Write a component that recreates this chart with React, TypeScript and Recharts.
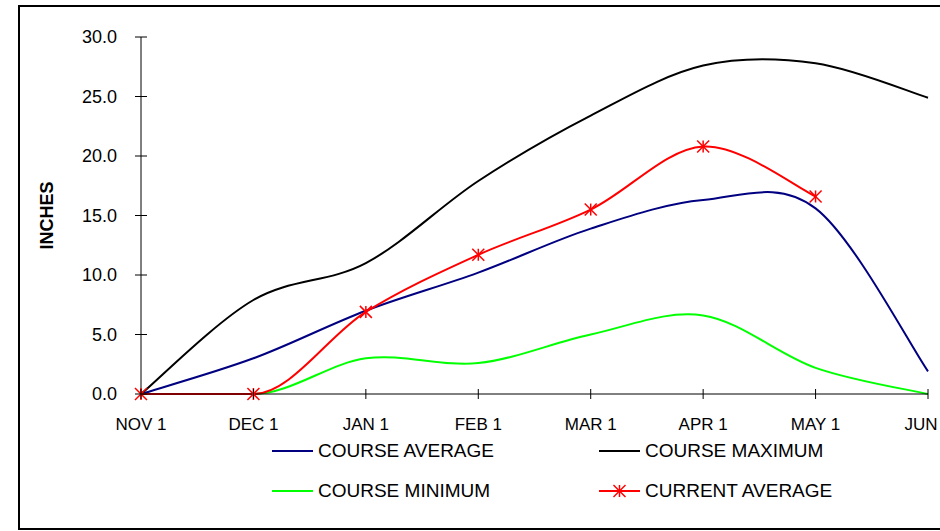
import React from 'react';
import { LineChart, Line, XAxis, YAxis } from 'recharts';

const MONTHS = ['NOV 1', 'DEC 1', 'JAN 1', 'FEB 1', 'MAR 1', 'APR 1', 'MAY 1', 'JUN 1'];
const COURSE_AVERAGE = [0, 3.0, 7.0, 10.2, 13.9, 16.3, 15.6, 1.9];
const COURSE_MAXIMUM = [0, 7.9, 11.0, 17.9, 23.4, 27.6, 27.8, 24.9];
const COURSE_MINIMUM = [0, 0, 3.0, 2.6, 5.0, 6.6, 2.2, 0];
const CURRENT_AVERAGE = [0, 0, 6.9, 11.7, 15.5, 20.8, 16.6, null];
const Y_TICKS = [0, 5, 10, 15, 20, 25, 30];

const FONT = '"Liberation Sans", Arial, sans-serif';

const data = MONTHS.map((m, i) => ({
  month: m,
  avg: COURSE_AVERAGE[i],
  max: COURSE_MAXIMUM[i],
  min: COURSE_MINIMUM[i],
  cur: CURRENT_AVERAGE[i],
}));

const SERIES = [
  { key: 'avg', name: 'COURSE AVERAGE', color: '#000080', star: false },
  { key: 'max', name: 'COURSE MAXIMUM', color: '#000000', star: false },
  { key: 'min', name: 'COURSE MINIMUM', color: '#00ff00', star: false },
  { key: 'cur', name: 'CURRENT AVERAGE', color: '#ff0000', star: true },
];

// excel-style smoothing: bezier with neighbour tangents / 6,
// flat next to a flat segment so it doesn't dip below zero
function excelSmooth(context: any) {
  let pts: number[][] = [];
  return {
    areaStart() {},
    areaEnd() {},
    lineStart() { pts = []; },
    point(x: number, y: number) { pts.push([+x, +y]); },
    lineEnd() {
      const n = pts.length;
      if (!n) return;
      const tan = pts.map((p, i) => {
        const a = pts[Math.max(i - 1, 0)];
        const b = pts[Math.min(i + 1, n - 1)];
        let ty = (b[1] - a[1]) / 6;
        if (i > 0 && i < n - 1 && (a[1] === p[1] || b[1] === p[1])) ty = 0;
        return [(b[0] - a[0]) / 6, ty];
      });
      context.moveTo(pts[0][0], pts[0][1]);
      for (let i = 0; i < n - 1; i++) {
        const p1 = pts[i];
        const p2 = pts[i + 1];
        context.bezierCurveTo(
          p1[0] + tan[i][0], p1[1] + tan[i][1],
          p2[0] - tan[i + 1][0], p2[1] - tan[i + 1][1],
          p2[0], p2[1],
        );
      }
    },
  };
}

const Star = ({ cx, cy, color }: any) => {
  if (cx == null || cy == null) return null;
  const r = 6;
  return (
    <g stroke={color} strokeWidth={1.5}>
      <line x1={cx - r} y1={cy - r} x2={cx + r} y2={cy + r} />
      <line x1={cx - r} y1={cy + r} x2={cx + r} y2={cy - r} />
      <line x1={cx} y1={cy - r} x2={cx} y2={cy + r} />
    </g>
  );
};

const YTick = ({ x, y, payload }: any) => (
  <g>
    <line x1={x - 6} x2={x + 6} y1={y} y2={y} stroke="#000" strokeWidth={1} />
    <text x={x - 24} y={y} dy="0.36em" textAnchor="end" fontFamily={FONT} fontSize={18} fill="#000">
      {Number(payload.value).toFixed(1)}
    </text>
  </g>
);

const XTick = ({ x, y, payload }: any) => (
  <g>
    <line x1={x} x2={x} y1={y - 5} y2={y + 5} stroke="#000" strokeWidth={1} />
    <text x={x} y={y + 36} textAnchor="middle" fontFamily={FONT} fontSize={17} fill="#000">
      {payload.value}
    </text>
  </g>
);

const YLabel = ({ viewBox }: any) => (
  <text
    x={viewBox.x + 53}
    y={viewBox.y + viewBox.height / 2}
    transform={`rotate(-90, ${viewBox.x + 53}, ${viewBox.y + viewBox.height / 2})`}
    textAnchor="middle"
    fontFamily={FONT}
    fontSize={18}
    fontWeight="bold"
    fill="#000"
  >
    INCHES
  </text>
);

const LegendBox = () => (
  <div style={{ position: 'absolute', left: 0, top: 0, fontFamily: FONT, fontSize: 19 }}>
    {SERIES.map((s, i) => (
      <div
        key={s.key}
        style={{
          position: 'absolute',
          left: 272 + (i % 2) * 327,
          top: 441 + Math.floor(i / 2) * 40,
          display: 'flex',
          alignItems: 'center',
          whiteSpace: 'nowrap',
          height: 20,
        }}
      >
        <svg width={41} height={16} style={{ marginRight: 5 }}>
          <line x1={0} x2={41} y1={8} y2={8} stroke={s.color} strokeWidth={2} />
          {s.star && <Star cx={20.5} cy={8} color={s.color} />}
        </svg>
        <span>{s.name}</span>
      </div>
    ))}
  </div>
);

export default function App() {
  return (
    <div style={{ position: 'absolute', left: 0, top: 0, width: 940, height: 531, background: '#fff', overflow: 'hidden' }}>
      <div style={{ position: 'absolute', left: 18, top: 5, width: 960, height: 521, border: '2px solid #000' }} />
      <LineChart width={940} height={531} data={data} margin={{ top: 37, right: 12, bottom: 107, left: 0 }}>
        <XAxis
          dataKey="month"
          height={30}
          interval={0}
          tickSize={0}
          tickMargin={0}
          tick={XTick}
          axisLine={{ stroke: '#000', strokeWidth: 1 }}
        />
        <YAxis
          width={141}
          domain={[0, 30]}
          ticks={Y_TICKS}
          interval={0}
          tickSize={0}
          tickMargin={0}
          tick={YTick}
          axisLine={{ stroke: '#000', strokeWidth: 1 }}
          label={<YLabel />}
        />
        {SERIES.map((s) => (
          <Line
            key={s.key}
            dataKey={s.key}
            name={s.name}
            type={excelSmooth as any}
            stroke={s.color}
            strokeWidth={2}
            dot={s.star ? (p: any) => <Star key={p.index} cx={p.cx} cy={p.cy} color={s.color} /> : false}
            activeDot={false}
            isAnimationActive={false}
          />
        ))}
      </LineChart>
      <LegendBox />
    </div>
  );
}
